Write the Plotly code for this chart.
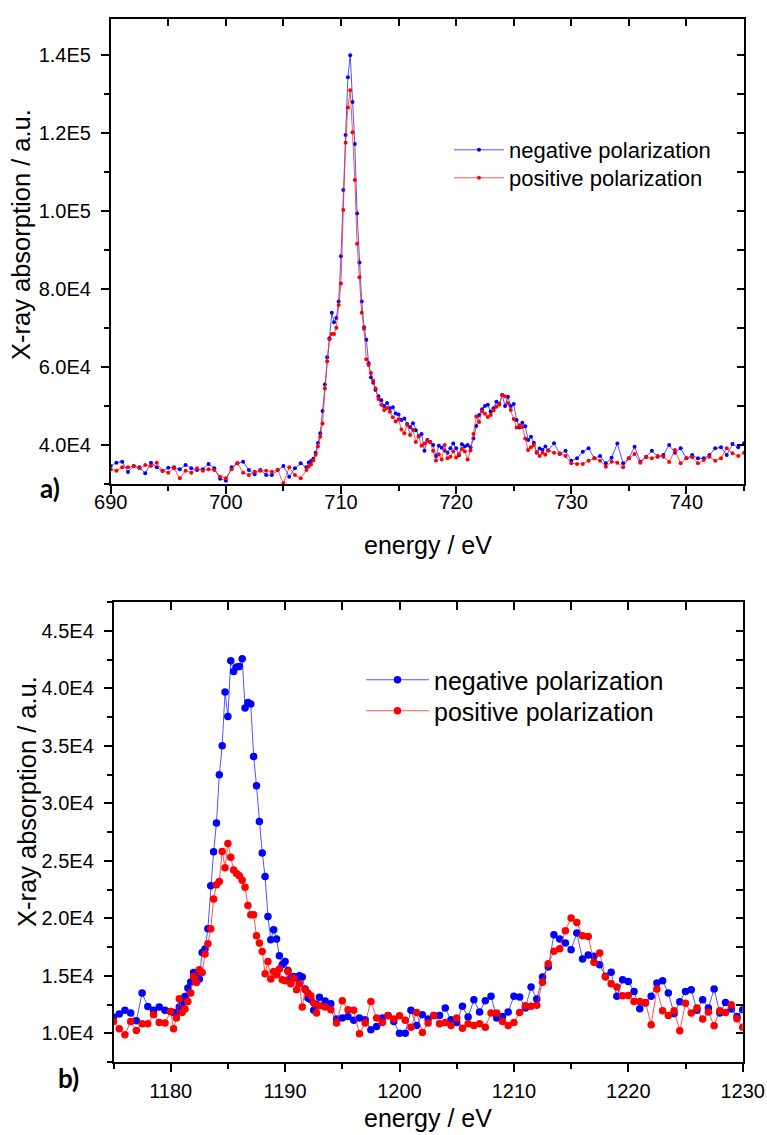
import plotly.graph_objects as go

# ---------------- panel a) : Fe L-edge region ----------------
energy_top = [
    690.0, 690.5, 691.0, 691.5, 692.0, 692.5, 693.0, 693.5, 694.0, 694.5,
    695.0, 695.5, 696.0, 696.5, 697.0, 697.5, 698.0, 698.5, 699.0, 699.5,
    700.0, 700.5, 701.0, 701.5, 702.0, 702.5, 703.0, 703.5, 704.0, 704.5,
    705.0, 705.5, 706.0, 706.5, 707.0,
    707.2, 707.4, 707.6, 707.8, 708.0, 708.2, 708.4, 708.6, 708.8, 709.0,
    709.2, 709.4, 709.6, 709.8, 710.0, 710.2, 710.4, 710.6, 710.8, 711.0,
    711.2, 711.4, 711.6, 711.8, 712.0, 712.2, 712.4, 712.6, 712.8, 713.0,
    713.25, 713.5, 713.75, 714.0, 714.25, 714.5, 714.75, 715.0, 715.25, 715.5,
    715.75, 716.0, 716.25, 716.5, 716.75, 717.0, 717.25, 717.5, 717.75, 718.0,
    718.25, 718.5, 718.75, 719.0, 719.25, 719.5, 719.75, 720.0, 720.25, 720.5,
    720.75, 721.0, 721.25, 721.5, 721.75, 722.0, 722.25, 722.5, 722.75, 723.0,
    723.25, 723.5, 723.75, 724.0, 724.25, 724.5, 724.75, 725.0, 725.25, 725.5,
    725.75, 726.0, 726.25, 726.5, 726.75, 727.0, 727.25, 727.5, 727.75, 728.0,
    728.5, 729.0, 729.5, 730.0, 730.5, 731.0, 731.5, 732.0, 732.5, 733.0,
    733.5, 734.0, 734.5, 735.0, 735.5, 736.0, 736.5, 737.0, 737.5, 738.0,
    738.5, 739.0, 739.5, 740.0, 740.5, 741.0, 741.5, 742.0, 742.5, 743.0,
    743.5, 744.0, 744.5, 745.0,
]

neg_top = [
    34620, 35470, 35730, 33080, 34620, 34270, 32740, 35470, 34270, 33330,
    34190, 34270, 33760, 34870, 34020, 33590, 33760, 35130, 34020, 31370,
    30860, 34270, 35300, 35730, 33590, 32480, 33590, 32310, 32310, 33590,
    34620, 31880, 34020, 35300, 34270,
    35500, 35900, 36500, 38000, 40500, 43000, 48700, 55500, 62500, 67400,
    73900, 71500, 72600, 76800, 88400, 105400, 119500, 134300, 140000, 128000,
    117200, 99400, 86800, 76800, 70200, 67000, 61000, 57400, 56000, 54100,
    52500, 51500, 50000, 50800, 49400, 49700, 48100, 47800, 46400, 46800,
    45400, 44600, 45600, 43800, 42300, 42800, 38500, 41300, 40800, 40000,
    37200, 39800, 39300, 38600, 38000, 39200, 40400, 39200, 37400, 40200,
    39600, 40000, 39400, 41700, 44900, 47700, 49200, 50000, 50300, 48600,
    49400, 51100, 50600, 52800, 50000, 52400, 50000, 50500, 46400, 44500,
    45700, 44800, 41300, 42100, 40600, 38000, 39100, 38800, 39600, 38600,
    40430, 37690, 38550, 35980, 36580, 38290, 39150, 36580, 37180, 35300,
    36750, 40400, 35300, 36580, 39570, 35730, 37010, 38550, 37010, 37440,
    40000, 38030, 39150, 36580, 37440, 36580, 36580, 37440, 39150, 39400,
    37440, 40260, 39400, 40430,
]

pos_top = [
    33760, 33420, 34270, 34270, 34620, 34020, 34870, 34620, 35470, 33420,
    32910, 34020, 31460, 33420, 32910, 34020, 33420, 33760, 33590, 31880,
    31460, 33760, 35300, 32910, 32310, 33160, 33420, 33420, 33160, 33590,
    30170, 34270, 32310, 31460, 33590,
    34500, 35000, 36000, 37500, 39600, 42100, 45500, 54500, 61500, 67100,
    68500, 68500, 70100, 75900, 81400, 100300, 117500, 126600, 131000, 120200,
    108000, 91600, 83000, 73900, 69800, 62000, 60500, 58500, 56500, 54500,
    51800, 50300, 49000, 49500, 48500, 47100, 46000, 46600, 44000, 43000,
    45200, 42600, 43900, 40800, 42200, 39800, 40400, 41000, 40800, 38500,
    36000, 37600, 36300, 40000, 36600, 37000, 38400, 36800, 37600, 39000,
    38400, 36300, 38600, 42800, 47300, 45900, 48700, 48000, 47200, 47700,
    48900, 49800, 50400, 52800, 52500, 50700, 49000, 46700, 44500, 45100,
    44600, 41700, 38700, 39400, 40000, 38200, 37200, 38000, 37500, 38600,
    38030, 37860, 37180, 35300, 35130, 35130, 35980, 36580, 35980, 34440,
    35730, 35470, 34270, 36580, 37690, 35470, 36840, 36580, 37180, 37010,
    35640, 38720, 35300, 36580, 36840, 35300, 36150, 37010, 35980, 36580,
    39150, 37860, 37180, 38030,
]

# ---------------- panel b) : second edge region ----------------
energy_bot = [
    1175.0, 1175.5, 1176.0, 1176.5, 1177.0, 1177.5, 1178.0, 1178.5, 1179.0, 1179.5, 1180.0,
    1180.25, 1180.5, 1180.75, 1181.0, 1181.25, 1181.5, 1181.75, 1182.0, 1182.25, 1182.5,
    1182.75, 1183.0, 1183.25, 1183.5, 1183.75, 1184.0, 1184.25, 1184.5, 1184.75, 1185.0,
    1185.25, 1185.5, 1185.75, 1186.0, 1186.25, 1186.5, 1186.75, 1187.0, 1187.25, 1187.5,
    1187.75, 1188.0, 1188.25, 1188.5, 1188.75, 1189.0, 1189.25, 1189.5, 1189.75, 1190.0,
    1190.25, 1190.5, 1190.75, 1191.0, 1191.25, 1191.5, 1191.75, 1192.0, 1192.25, 1192.5,
    1192.75, 1193.0,
    1193.5, 1194.0, 1194.5, 1195.0, 1195.5, 1196.0, 1196.5, 1197.0, 1197.5, 1198.0,
    1198.5, 1199.0, 1199.5, 1200.0, 1200.5, 1201.0, 1201.5, 1202.0, 1202.5, 1203.0,
    1203.5, 1204.0, 1204.5, 1205.0, 1205.5, 1206.0, 1206.5, 1207.0, 1207.5, 1208.0,
    1208.5, 1209.0, 1209.5, 1210.0, 1210.5, 1211.0, 1211.5, 1212.0, 1212.5, 1213.0,
    1213.5, 1214.0, 1214.5, 1215.0, 1215.5, 1216.0, 1216.5, 1217.0, 1217.5, 1218.0,
    1218.5, 1219.0, 1219.5, 1220.0, 1220.5, 1221.0, 1221.5, 1222.0, 1222.5, 1223.0,
    1223.5, 1224.0, 1224.5, 1225.0, 1225.5, 1226.0, 1226.5, 1227.0, 1227.5, 1228.0,
    1228.5, 1229.0, 1229.5, 1230.0,
]

neg_bot = [
    11400, 11670, 11990, 11760, 11090, 13490, 12330, 11990, 12280, 11990, 11900,
    11800, 11760, 12280, 12620, 13200, 13930, 14450, 15290, 15000, 14710,
    17030, 17320, 19090, 22830, 25780, 28280, 32480, 35000, 39670, 37550,
    42390, 41460, 41850, 41900, 42570, 38280, 38770, 38630, 34070, 31520,
    28420, 25670, 23640, 20160, 18130, 19000, 18190, 16740, 15960, 16250,
    15460, 14800, 14940, 14800, 15000, 14890, 13840, 13060, 12910, 11990,
    12500, 13120,
    12800, 12570, 11230, 11320, 11460, 11120, 11320, 11170, 10300, 10590,
    11320, 11550, 11030, 10010, 10010, 11990, 10680, 11610, 11230, 11550,
    11550, 12190, 11170, 10940, 12340, 11410, 12920, 11840, 12830, 13210,
    11320, 11460, 11840, 13210, 13150, 12190, 14020, 12980, 14890, 15760,
    18570, 18190, 17840, 17260, 18710, 16460, 16800, 16690, 15960, 14950,
    15300, 13210, 14660, 14510, 13640, 12140, 12630, 13210, 14370, 14570,
    13500, 11700, 12740, 13640, 13790, 11990, 12920, 12190, 13840, 11760,
    12680, 12110, 11460, 12050,
]

pos_bot = [
    11030, 10390, 9870, 11030, 10240, 10830, 10830, 11610, 10940, 10890, 11900,
    10390, 11320, 13000, 11810, 12100, 12770, 13490, 14940, 14420, 15520,
    15290, 16890, 17780, 19090, 21670, 22910, 23200, 25810, 24400, 26500,
    25300, 24200, 23900, 23700, 23300, 22700, 21100, 20310, 20310, 18480,
    17840, 17110, 15170, 16250, 14710, 15380, 15090, 15580, 14650, 14570,
    15380, 14300, 14800, 13780, 14300, 12280, 13780, 13490, 13260, 12620,
    11760, 12390,
    12280, 12050, 10890, 12830, 12050, 11990, 9960, 10890, 12770, 11320,
    10940, 11520, 11230, 11520, 11120, 10530, 11810, 10070, 10890, 11550,
    10830, 10940, 10680, 11320, 10440, 10830, 10680, 10830, 10530, 11760,
    11760, 11030, 10680, 10940, 11810, 12400, 12340, 12430, 14430, 16050,
    17120, 17350, 18920, 20020, 19640, 18480, 18420, 16170, 16980, 14890,
    14310, 14020, 13260, 13290, 12770, 12770, 12680, 10740, 13840, 11960,
    11550, 11960, 10220, 12600, 11760, 12190, 11230, 11840, 10650, 11960,
    11810, 12480, 11260, 10530,
]

series_names = ["negative polarization", "positive polarization"]

top_ytickvals = [40000, 60000, 80000, 100000, 120000, 140000]
top_yticktext = ["4.0E4", "6.0E4", "8.0E4", "1.0E5", "1.2E5", "1.4E5"]
bot_ytickvals = [10000, 15000, 20000, 25000, 30000, 35000, 40000, 45000]
bot_yticktext = ["1.0E4", "1.5E4", "2.0E4", "2.5E4", "3.0E4", "3.5E4", "4.0E4", "4.5E4"]

# ---------------- styling ----------------
W, H = 767, 1135
BLUE, RED = "#0000ff", "#ff0000"
BLUE_L, RED_L = "rgba(40,40,255,0.8)", "rgba(255,40,40,0.8)"
TICKFONT = dict(family="Liberation Sans, Arial", size=20, color="black")
TITLEFONT = dict(family="Liberation Sans, Arial", size=25, color="black")
YTITLEFONT = dict(family="Liberation Sans, Arial", size=25.5, color="black")

fig = go.Figure()

fig.add_trace(go.Scatter(x=energy_top, y=neg_top, mode="lines+markers", name=series_names[0],
                         line=dict(color=BLUE_L, width=1), marker=dict(color=BLUE, size=4),
                         xaxis="x", yaxis="y", legend="legend"))
fig.add_trace(go.Scatter(x=energy_top, y=pos_top, mode="lines+markers", name=series_names[1],
                         line=dict(color=RED_L, width=1), marker=dict(color=RED, size=4),
                         xaxis="x", yaxis="y", legend="legend3"))
fig.add_trace(go.Scatter(x=energy_bot, y=neg_bot, mode="lines+markers", name=series_names[0],
                         line=dict(color=BLUE_L, width=1), marker=dict(color=BLUE, size=7.5),
                         xaxis="x2", yaxis="y2", legend="legend2"))
fig.add_trace(go.Scatter(x=energy_bot, y=pos_bot, mode="lines+markers", name=series_names[1],
                         line=dict(color=RED_L, width=1), marker=dict(color=RED, size=7.5),
                         xaxis="x2", yaxis="y2", legend="legend4"))
# empty traces so the mirrored (inner-tick) axes are drawn
fig.add_trace(go.Scatter(x=[], y=[], xaxis="x3", yaxis="y3", showlegend=False, hoverinfo="skip"))
fig.add_trace(go.Scatter(x=[], y=[], xaxis="x4", yaxis="y4", showlegend=False, hoverinfo="skip"))

top_xr = [690, 745]
top_yr = [30000, 149400]
bot_xr = [1175, 1230]
bot_yr = [7500, 47500]

dom_x1 = [110.7 / W, 744 / W]
dom_y1 = [1 - 484 / H, 1 - 18.5 / H]
dom_x2 = [113.5 / W, 742.7 / W]
dom_y2 = [1 - 1062 / H, 1 - 602 / H]

axline = dict(showline=True, linecolor="black", linewidth=1.5, showgrid=False, zeroline=False,
              automargin=False)
tk = dict(tickwidth=1.5, tickcolor="black")

fig.update_layout(
    width=W, height=H, autosize=False,
    margin=dict(l=0, r=0, t=0, b=0, autoexpand=False),
    paper_bgcolor="white", plot_bgcolor="white",
    showlegend=True,
    xaxis=dict(domain=dom_x1, range=top_xr, anchor="y", tickmode="linear", tick0=690, dtick=10,
               ticks="outside", ticklen=8, tickfont=TICKFONT, ticklabelstandoff=-9,
               minor=dict(tick0=690, dtick=5, ticks="outside", ticklen=5, **tk), **tk, **axline),
    yaxis=dict(domain=dom_y1, range=top_yr, anchor="x", tickmode="array", tickvals=top_ytickvals,
               ticktext=top_yticktext, ticks="outside", ticklen=8, tickfont=TICKFONT, ticklabelstandoff=6,
               minor=dict(tick0=0, dtick=10000, ticks="outside", ticklen=5, **tk), **tk, **axline),
    xaxis3=dict(overlaying="x", side="top", anchor="y", range=top_xr, tickmode="linear", tick0=690, dtick=5,
                ticks="inside", ticklen=8, showticklabels=False, **tk, **axline),
    yaxis3=dict(overlaying="y", side="right", anchor="x", range=top_yr, tickmode="linear", tick0=0, dtick=10000,
                ticks="inside", ticklen=7, showticklabels=False, **tk, **axline),
    xaxis2=dict(domain=dom_x2, range=bot_xr, anchor="y2", tickmode="linear", tick0=1180, dtick=10,
                ticks="outside", ticklen=8, tickfont=TICKFONT, ticklabelstandoff=2,
                minor=dict(tick0=1175, dtick=5, ticks="outside", ticklen=5, **tk), **tk, **axline),
    yaxis2=dict(domain=dom_y2, range=bot_yr, anchor="x2", tickmode="array", tickvals=bot_ytickvals,
                ticktext=bot_yticktext, ticks="outside", ticklen=8, tickfont=TICKFONT, ticklabelstandoff=6,
                minor=dict(tick0=0, dtick=2500, ticks="outside", ticklen=5, **tk), **tk, **axline),
    xaxis4=dict(overlaying="x2", side="top", anchor="y2", range=bot_xr, tickmode="linear", tick0=1175, dtick=5,
                ticks="inside", ticklen=8, showticklabels=False, **tk, **axline),
    yaxis4=dict(overlaying="y2", side="right", anchor="x2", range=bot_yr, tickmode="linear", tick0=0, dtick=2500,
                ticks="inside", ticklen=7, showticklabels=False, **tk, **axline),
    legend=dict(x=449 / W, y=1 - 150 / H, xanchor="left", yanchor="middle", bgcolor="rgba(0,0,0,0)",
                font=dict(family="Liberation Sans, Arial", size=22, color="black"), itemwidth=50),
    legend3=dict(x=449 / W, y=1 - 178 / H, xanchor="left", yanchor="middle", bgcolor="rgba(0,0,0,0)",
                 font=dict(family="Liberation Sans, Arial", size=22, color="black"), itemwidth=50),
    legend2=dict(x=361 / W, y=1 - 680 / H, xanchor="left", yanchor="middle", bgcolor="rgba(0,0,0,0)",
                 font=dict(family="Liberation Sans, Arial", size=25, color="black"), itemwidth=63),
    legend4=dict(x=361 / W, y=1 - 711 / H, xanchor="left", yanchor="middle", bgcolor="rgba(0,0,0,0)",
                 font=dict(family="Liberation Sans, Arial", size=25, color="black"), itemwidth=63),
)

annotations = [
    dict(text="energy / eV", x=428 / W, y=1 - 545 / H, font=TITLEFONT),
    dict(text="X-ray absorption / a.u.", x=21 / W, y=1 - 235 / H, textangle=-90, font=YTITLEFONT),
    dict(text="energy / eV", x=428 / W, y=1 - 1118 / H, font=TITLEFONT),
    dict(text="X-ray absorption / a.u.", x=27 / W, y=1 - 802 / H, textangle=-90, font=YTITLEFONT),
    dict(text="<b>a)</b>", x=50 / W, y=1 - 488 / H, font=dict(family="Lato, Open Sans", size=26, color="black")),
    dict(text="<b>b)</b>", x=68 / W, y=1 - 1078 / H, font=dict(family="Lato, Open Sans", size=26, color="black")),
]
for a in annotations:
    fig.add_annotation(xref="paper", yref="paper", showarrow=False, xanchor="center", yanchor="middle", **a)

fig.write_html("out.html")
